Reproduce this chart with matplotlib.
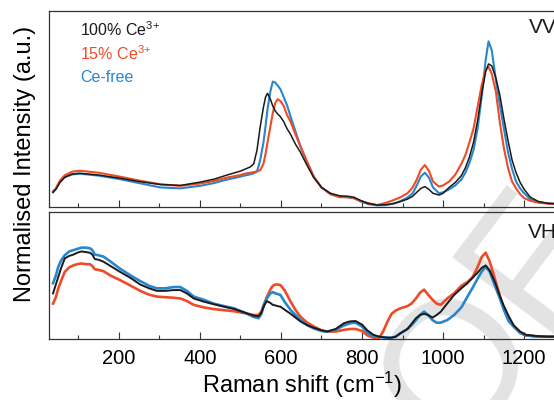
import matplotlib
matplotlib.use("Agg")
import matplotlib.pyplot as plt
from matplotlib.ticker import MultipleLocator

plt.rcParams['font.family'] = 'Liberation Sans'
plt.rcParams['mathtext.fontset'] = 'custom'
plt.rcParams['mathtext.rm'] = 'Liberation Sans'
plt.rcParams['mathtext.it'] = 'Liberation Sans:italic'

# VV panel, values as fraction of panel height
vv_x = [38, 45, 55, 67, 85, 104, 150, 203, 250, 302,
        352, 401, 435, 467, 500, 516, 525, 533, 541, 549,
        557, 562, 567, 574, 580, 586, 592, 599, 607, 615,
        624, 636, 648, 665, 681, 700, 722, 745, 764, 780,
        797, 815, 838, 860, 879, 895, 912, 925, 935, 945,
        955, 965, 975, 990, 1000, 1015, 1030, 1045, 1055, 1065,
        1075, 1085, 1095, 1105, 1112, 1120, 1130, 1140, 1150, 1160,
        1170, 1180, 1190, 1200, 1215, 1235, 1260, 1300]
vv_black = [0.075, 0.09, 0.125, 0.152, 0.168, 0.172, 0.163, 0.147, 0.13, 0.115,
            0.11, 0.127, 0.142, 0.163, 0.183, 0.197, 0.205, 0.22, 0.29, 0.41,
            0.51, 0.56, 0.58, 0.55, 0.515, 0.49, 0.475, 0.46, 0.435, 0.40,
            0.37, 0.32, 0.28, 0.21, 0.15, 0.10, 0.07, 0.057, 0.055, 0.05,
            0.033, 0.018, 0.01, 0.012, 0.018, 0.028, 0.04, 0.055, 0.075, 0.095,
            0.104, 0.09, 0.07, 0.061, 0.07, 0.10, 0.125, 0.16, 0.20, 0.255,
            0.33, 0.44, 0.575, 0.69, 0.73, 0.72, 0.66, 0.57, 0.45, 0.34,
            0.24, 0.175, 0.125, 0.09, 0.05, 0.028, 0.018, 0.015]
vv_red = [0.075, 0.095, 0.135, 0.162, 0.18, 0.185, 0.175, 0.155, 0.135, 0.116,
          0.108, 0.12, 0.133, 0.15, 0.163, 0.172, 0.175, 0.178, 0.182, 0.188,
          0.22, 0.27, 0.33, 0.41, 0.48, 0.53, 0.55, 0.54, 0.515, 0.47,
          0.435, 0.37, 0.31, 0.23, 0.155, 0.10, 0.065, 0.05, 0.05, 0.045,
          0.03, 0.02, 0.01, 0.022, 0.036, 0.05, 0.07, 0.10, 0.14, 0.19,
          0.214, 0.185, 0.13, 0.104, 0.11, 0.13, 0.165, 0.22, 0.265, 0.33,
          0.40, 0.51, 0.62, 0.70, 0.715, 0.68, 0.59, 0.43, 0.30, 0.20,
          0.13, 0.095, 0.065, 0.045, 0.032, 0.022, 0.017, 0.015]
vv_blue = [0.08, 0.093, 0.128, 0.152, 0.166, 0.17, 0.16, 0.142, 0.122, 0.10,
           0.095, 0.108, 0.122, 0.14, 0.155, 0.163, 0.167, 0.172, 0.18, 0.24,
           0.33, 0.41, 0.50, 0.59, 0.64, 0.635, 0.62, 0.60, 0.56, 0.52,
           0.46, 0.385, 0.31, 0.225, 0.155, 0.10, 0.068, 0.052, 0.05, 0.045,
           0.028, 0.015, 0.008, 0.01, 0.018, 0.03, 0.048, 0.07, 0.11, 0.155,
           0.175, 0.15, 0.10, 0.07, 0.075, 0.09, 0.11, 0.14, 0.175, 0.225,
           0.29, 0.40, 0.56, 0.75, 0.845, 0.80, 0.65, 0.52, 0.40, 0.28,
           0.195, 0.13, 0.095, 0.07, 0.04, 0.025, 0.018, 0.015]

# VH panel
vh_x = [38, 45, 51, 58, 67, 78, 88, 98, 108, 118,
        129, 135, 141, 150, 162, 180, 203, 230, 253, 275,
        294, 315, 335, 352, 368, 385, 410, 434, 460, 484,
        510, 533, 545, 552, 558, 565, 574, 580, 587, 592,
        599, 610, 624, 636, 648, 665, 681, 700, 714, 735,
        755, 770, 784, 800, 813, 828, 842, 852, 863, 873,
        883, 895, 912, 922, 933, 943, 953, 963, 974, 984,
        994, 1010, 1027, 1045, 1060, 1072, 1084, 1095, 1105, 1115,
        1129, 1140, 1150, 1162, 1174, 1190, 1204, 1230, 1257, 1300]
vh_black = [0.36, 0.43, 0.49, 0.56, 0.635, 0.655, 0.665, 0.68, 0.69, 0.685,
            0.68, 0.665, 0.63, 0.625, 0.61, 0.575, 0.53, 0.48, 0.43, 0.40,
            0.38, 0.38, 0.386, 0.386, 0.36, 0.32, 0.295, 0.275, 0.255, 0.238,
            0.21, 0.185, 0.18, 0.21, 0.26, 0.30, 0.285, 0.27, 0.265, 0.26,
            0.255, 0.23, 0.20, 0.17, 0.14, 0.11, 0.09, 0.07, 0.06, 0.08,
            0.125, 0.14, 0.143, 0.115, 0.07, 0.035, 0.02, 0.015, 0.012, 0.012,
            0.02, 0.047, 0.08, 0.12, 0.165, 0.19, 0.20, 0.19, 0.17, 0.19,
            0.215, 0.28, 0.347, 0.40, 0.44, 0.48, 0.52, 0.56, 0.58, 0.54,
            0.44, 0.34, 0.26, 0.18, 0.11, 0.06, 0.035, 0.025, 0.02, 0.02]
vh_red = [0.28, 0.33, 0.40, 0.46, 0.53, 0.565, 0.58, 0.59, 0.595, 0.59,
          0.59, 0.575, 0.55, 0.545, 0.535, 0.50, 0.465, 0.42, 0.38, 0.35,
          0.335, 0.33, 0.326, 0.32, 0.30, 0.27, 0.25, 0.237, 0.228, 0.22,
          0.205, 0.19, 0.19, 0.22, 0.27, 0.33, 0.39, 0.42, 0.43, 0.43,
          0.425, 0.38, 0.295, 0.23, 0.177, 0.13, 0.10, 0.07, 0.06, 0.06,
          0.073, 0.08, 0.08, 0.065, 0.03, 0.012, 0.008, 0.06, 0.14, 0.20,
          0.225, 0.243, 0.26, 0.28, 0.32, 0.365, 0.39, 0.35, 0.31, 0.28,
          0.27, 0.32, 0.36, 0.42, 0.45, 0.485, 0.56, 0.645, 0.68, 0.61,
          0.46, 0.34, 0.24, 0.145, 0.10, 0.05, 0.03, 0.022, 0.02, 0.02]
vh_blue = [0.44, 0.50, 0.57, 0.62, 0.66, 0.69, 0.70, 0.71, 0.72, 0.72,
           0.715, 0.70, 0.665, 0.66, 0.65, 0.61, 0.555, 0.50, 0.457, 0.42,
           0.40, 0.40, 0.41, 0.41, 0.38, 0.335, 0.31, 0.28, 0.26, 0.243,
           0.21, 0.175, 0.165, 0.20, 0.27, 0.32, 0.36, 0.37, 0.36, 0.355,
           0.347, 0.29, 0.23, 0.19, 0.15, 0.11, 0.085, 0.065, 0.06, 0.075,
           0.107, 0.125, 0.13, 0.10, 0.05, 0.025, 0.02, 0.015, 0.012, 0.012,
           0.02, 0.047, 0.08, 0.11, 0.15, 0.19, 0.217, 0.19, 0.15, 0.13,
           0.13, 0.15, 0.19, 0.25, 0.334, 0.40, 0.47, 0.53, 0.57, 0.53,
           0.41, 0.32, 0.23, 0.14, 0.10, 0.05, 0.03, 0.022, 0.02, 0.02]

series_labels = ['100% Ce$^{3{+}}$', '15% Ce$^{3{+}}$', 'Ce-free']
c_black = '#1a1a1a'
c_red = '#ee4b26'
c_blue = '#2a86cc'

fig = plt.figure(figsize=(5.54, 4.0), dpi=100)

# watermark behind everything
fig.text(0.7417, -0.263, 'PROOF', rotation=53, rotation_mode='anchor',
         ha='center', va='baseline', fontsize=133, color='#e3e3e3', zorder=-5)

ax1 = fig.add_axes([0.0884, 0.4825, 0.931, 0.49])
ax2 = fig.add_axes([0.0884, 0.152, 0.931, 0.318])

for ax in (ax1, ax2):
    ax.set_facecolor('none')
    ax.set_xlim(28, 1300)
    ax.set_ylim(0, 1)
    ax.set_yticks([])
    ax.xaxis.set_major_locator(MultipleLocator(200))
    ax.xaxis.set_minor_locator(MultipleLocator(100))
    ax.tick_params(axis='x', which='major', direction='in', length=5, width=0.8,
                   labelsize=14.5, pad=7, color='#333333')
    ax.tick_params(axis='x', which='minor', direction='in', length=3, width=0.8,
                   color='#333333')
    for s in ax.spines.values():
        s.set_linewidth(0.9)
        s.set_color('#333333')

ax1.tick_params(axis='x', labelbottom=False)

ax1.plot(vv_x, vv_blue, color=c_blue, lw=1.5)
ax1.plot(vv_x, vv_red, color=c_red, lw=1.5)
ax1.plot(vv_x, vv_black, color=c_black, lw=1.1)

# VH spectra are noisy, so draw them a bit heavier
ax2.plot(vh_x, vh_red, color=c_red, lw=1.9)
ax2.plot(vh_x, vh_blue, color=c_blue, lw=1.9)
ax2.plot(vh_x, vh_black, color=c_black, lw=1.4)

# legend as coloured text
for lab, col, y in zip(series_labels, [c_black, c_red, c_blue], [0.925, 0.865, 0.8075]):
    fig.text(0.1444, y, lab, color=col, fontsize=11.5, va='center', ha='left')

fig.text(0.954, 0.931, 'VV', fontsize=15, va='center', ha='left', color='#1a1a1a')
fig.text(0.952, 0.419, 'VH', fontsize=15, va='center', ha='left', color='#1a1a1a')

fig.text(0.045, 0.59, 'Normalised Intensity (a.u.)', rotation=90,
         fontsize=17, va='center', ha='center')
fig.text(0.545, 0.037, 'Raman shift (cm$^{\\mathregular{-1}}$)',
         fontsize=17, va='center', ha='center')

fig.savefig('out.png', dpi=100)
